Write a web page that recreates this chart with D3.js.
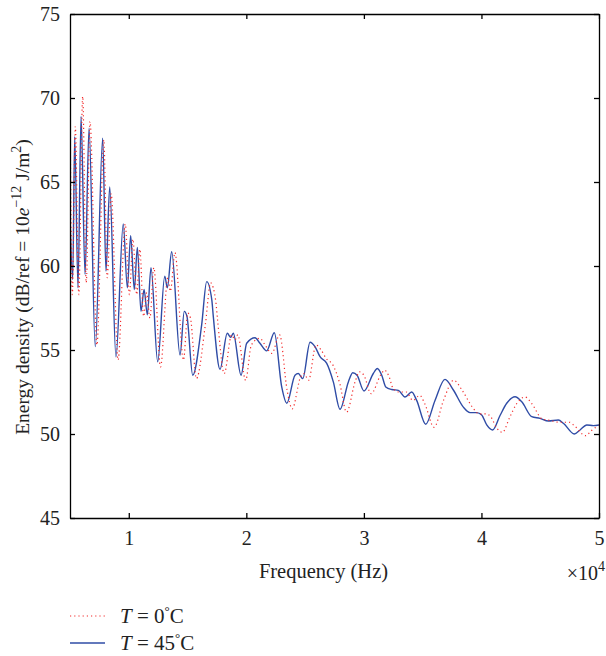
<!DOCTYPE html>
<html>
<head>
<meta charset="utf-8">
<script src="https://cdn.jsdelivr.net/npm/d3@7"></script>
<style>
  body { margin: 0; background: #fff; }
  text { font-family: "Liberation Serif", "DejaVu Serif", serif; fill: #222; }
</style>
</head>
<body>
<svg id="chart" width="606" height="656"></svg>
<script>
// T = 45 C (solid blue)
const freq45 = [5000, 5230, 5400, 5680, 5940, 6280, 6620, 7150, 7780, 8060, 8380, 8910, 9530, 9880, 10160, 10470,
  10730, 11040, 11300, 11580, 11890, 12460, 13060, 13280, 13650, 14360, 14720, 14950, 15440, 16200, 16630, 17060,
  17190, 17760, 18380, 18670, 18890, 19550, 20030, 20740, 21160, 21730, 22380, 23010, 23440, 24140, 24420, 24800,
  25420, 25840, 26270, 26840, 27400, 27970, 28680, 29050, 29420, 30010, 30800, 31140, 31520, 31860, 32370, 32930,
  33500, 34070, 34490, 35260, 36050, 36900, 37610, 38460, 39030, 39600, 40020, 40450, 40960, 41580, 42150, 42860,
  43430, 44280, 44980, 45690, 46540, 46970, 47900, 48390, 48960, 49520, 50000];
const db45 = [63.0, 59.2, 67.7, 58.7, 68.9, 59.5, 68.2, 55.2, 67.6, 59.7, 64.7, 54.6, 62.5, 58.7, 61.8, 58.6,
  61.1, 57.3, 58.6, 57.1, 59.9, 54.3, 59.4, 58.7, 60.85, 54.7, 57.3, 57.0, 53.5, 56.5, 59.07, 58.0,
  57.0, 53.85, 56.0, 55.75, 56.0, 53.5, 55.4, 55.73, 55.4, 54.95, 56.03, 52.8, 51.83, 53.5, 53.6, 53.3,
  55.46, 55.2, 54.6, 54.2, 53.1, 51.47, 53.1, 53.65, 53.5, 52.56, 53.6, 53.9, 53.5, 52.8, 52.65, 52.6,
  52.2, 52.5, 52.0, 50.58, 52.0, 53.25, 52.62, 51.6, 51.27, 51.27, 51.13, 50.54, 50.24, 51.1, 51.83, 52.22,
  51.92, 51.03, 50.93, 50.77, 50.83, 50.64, 50.0, 50.24, 50.54, 50.5, 50.54];

// T = 0 C (dotted red)
const freq0 = [5000, 5200, 5450, 5750, 6080, 6380, 6700, 7290, 7880, 8170, 8500, 9090, 9700, 10050, 10350, 10680,
  10940, 11260, 11520, 11800, 12130, 12700, 13320, 13540, 13930, 14650, 15020, 15250, 15750, 16530, 16960, 17400,
  17540, 18120, 18750, 19040, 19270, 19940, 20430, 21150, 21590, 22170, 22830, 23470, 23900, 24620, 24910, 25290,
  25930, 26360, 26790, 27370, 27950, 28530, 29250, 29630, 30000, 30610, 31420, 31760, 32150, 32490, 33010, 33590,
  34170, 34750, 35180, 35970, 36770, 37640, 38360, 39230, 39810, 40390, 40820, 41260, 41780, 42410, 42990, 43710,
  44290, 45160, 45880, 46600, 47470, 47900, 48860, 49350, 49940];
const db0 = [69.6, 58.3, 68.3, 58.3, 70.1, 59.0, 68.6, 55.3, 67.5, 59.3, 64.3, 54.4, 62.5, 58.3, 61.6, 58.3,
  61.0, 57.0, 58.4, 56.9, 59.9, 54.0, 59.3, 58.5, 60.8, 54.4, 57.2, 56.9, 53.3, 56.6, 59.0, 57.9,
  56.9, 53.6, 55.9, 55.6, 55.9, 53.2, 55.3, 55.7, 55.3, 54.8, 55.9, 52.6, 51.5, 53.4, 53.6, 53.2,
  55.3, 55.0, 54.5, 54.1, 53.0, 51.3, 53.1, 53.7, 53.5, 52.4, 53.5, 53.8, 53.4, 52.7, 52.5, 52.5,
  52.0, 52.3, 51.8, 50.4, 52.0, 53.2, 52.6, 51.6, 51.2, 51.2, 51.0, 50.4, 50.1, 51.0, 51.8, 52.2,
  51.8, 50.9, 50.8, 50.7, 50.7, 50.5, 49.9, 50.2, 50.5];

const xTicks = [10000, 20000, 30000, 40000, 50000];
const xTickLabels = ['1', '2', '3', '4', '5'];
const yTicks = [45, 50, 55, 60, 65, 70, 75];

const margin = { left: 70, top: 14, right: 7, bottom: 138 };
const W = 606, H = 656;
const pw = W - margin.left - margin.right;
const ph = H - margin.top - margin.bottom;

const svg = d3.select('#chart');
const g = svg.append('g').attr('transform', 'translate(' + margin.left + ',' + margin.top + ')');

const x = d3.scaleLinear().domain([5000, 50000]).range([0, pw]);
const y = d3.scaleLinear().domain([45, 75]).range([ph, 0]);

g.append('clipPath').attr('id', 'clip')
  .append('rect').attr('width', pw).attr('height', ph);

const line = d3.line()
  .x(d => x(d[0]))
  .y(d => y(d[1]))
  .curve(d3.curveMonotoneX);

const red = '#f22a2a', blue = '#2f4ca6';

g.append('path')
  .datum(freq45.map((f, i) => [f, db45[i]]))
  .attr('clip-path', 'url(#clip)')
  .attr('fill', 'none')
  .attr('stroke', blue)
  .attr('stroke-width', 1.4)
  .attr('d', line);

g.append('path')
  .datum(freq0.map((f, i) => [f, db0[i]]))
  .attr('clip-path', 'url(#clip)')
  .attr('fill', 'none')
  .attr('stroke', red)
  .attr('stroke-width', 1.2)
  .attr('stroke-dasharray', '1.2,3')
  .attr('d', line);

// axes: inward ticks on all four sides (box style)
const tk = 5;
const xb = g.append('g').attr('transform', 'translate(0,' + ph + ')')
  .call(d3.axisBottom(x).tickValues(xTicks).tickSizeInner(-tk).tickSizeOuter(0).tickPadding(13)
    .tickFormat((d, i) => xTickLabels[i]));
const xt = g.append('g')
  .call(d3.axisTop(x).tickValues(xTicks).tickSizeInner(-tk).tickSizeOuter(0).tickFormat(''));
const yl = g.append('g')
  .call(d3.axisLeft(y).tickValues(yTicks).tickSizeInner(-tk).tickSizeOuter(0).tickPadding(10));
const yr = g.append('g').attr('transform', 'translate(' + pw + ',0)')
  .call(d3.axisRight(y).tickValues(yTicks).tickSizeInner(-tk).tickSizeOuter(0).tickFormat(''));

[xb, xt, yl, yr].forEach(a => {
  a.select('.domain').attr('stroke', '#000').attr('stroke-width', 1.3);
  a.selectAll('.tick line').attr('stroke', '#000').attr('stroke-width', 1.3);
  a.selectAll('.tick text').attr('font-family', '"Liberation Serif", serif').attr('font-size', 20).attr('fill', '#222');
});

// axis labels
g.append('text')
  .attr('x', pw / 2 - 11).attr('y', ph + 60)
  .attr('text-anchor', 'middle').attr('font-size', 20.5)
  .text('Frequency (Hz)');

const mult = svg.append('text').attr('x', 605).attr('y', 580).attr('text-anchor', 'end').attr('font-size', 20);
mult.append('tspan').text('×10');
mult.append('tspan').attr('dy', -9).attr('font-size', 14).text('4');

const yLab = svg.append('text')
  .attr('transform', 'translate(29,287) rotate(-90)')
  .attr('text-anchor', 'middle').attr('font-size', 19.5);
yLab.append('tspan').text('Energy density (dB/ref = 10');
yLab.append('tspan').attr('font-style', 'italic').text('e');
yLab.append('tspan').attr('dy', -8).attr('font-size', 14).text('−12');
yLab.append('tspan').attr('dy', 8).text(' J/m');
yLab.append('tspan').attr('dy', -8).attr('font-size', 14).text('2');
yLab.append('tspan').attr('dy', 8).text(')');

// legend
const legend = svg.append('g').attr('transform', 'translate(70,616)');
const legItems = [
  { label: '0', color: red, dash: '1.2,3' },
  { label: '45', color: blue, dash: null }
];
legItems.forEach((d, i) => {
  const row = legend.append('g').attr('transform', 'translate(0,' + i * 27 + ')');
  row.append('line').attr('x1', 0).attr('x2', 35).attr('y1', 0).attr('y2', 0)
    .attr('stroke', d.color).attr('stroke-width', d.dash ? 1.2 : 1.4)
    .attr('stroke-dasharray', d.dash);
  const t = row.append('text').attr('x', 50).attr('y', 7).attr('font-size', 21);
  t.append('tspan').attr('font-style', 'italic').text('T');
  t.append('tspan').text(' = ' + d.label);
  t.append('tspan').attr('dy', -8).attr('font-size', 13).text('°');
  t.append('tspan').attr('dy', 8).text('C');
});
</script>
</body>
</html>
